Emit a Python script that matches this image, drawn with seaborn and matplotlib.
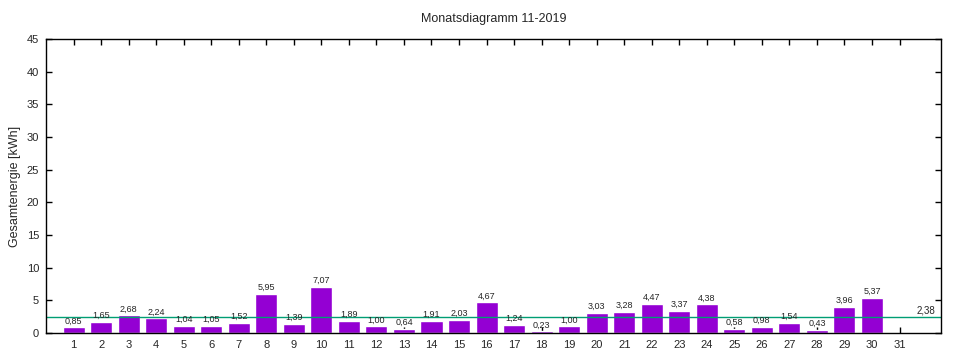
import pandas as pd
import numpy as np
import matplotlib
matplotlib.use('Agg')
import matplotlib.pyplot as plt
import seaborn as sns

# Daily energy values for November 2019 (kWh)
days = list(range(1, 31))
energy = [0.85, 1.65, 2.68, 2.24, 1.04, 1.05, 1.52, 5.95, 1.39, 7.07,
          1.89, 1.00, 0.64, 1.91, 2.03, 4.67, 1.24, 0.23, 1.00, 3.03,
          3.28, 4.47, 3.37, 4.38, 0.58, 0.98, 1.54, 0.43, 3.96, 5.37]
tick_days = list(range(1, 32))
y_ticks = list(range(0, 50, 5))
average = 2.38

df = pd.DataFrame({'Tag': days, 'Energie': energy})

sns.set_style("white")
plt.rcParams['font.family'] = ['Liberation Sans', 'DejaVu Sans']

fig = plt.figure(figsize=(9.6, 3.6), dpi=100)
ax = fig.add_axes([0.048, 0.075, 0.932, 0.817])

sns.barplot(data=df, x='Tag', y='Energie', native_scale=True, color='#9400d3',
            saturation=1, width=0.8, ax=ax)

# Average line
ax.axhline(average, color='#009e73', linewidth=1)
ax.text(32.3, average + 0.3, f"{average:.2f}".replace('.', ','), ha='right',
        va='bottom', fontsize=7)

# Value labels above bars
for d, v in zip(days, energy):
    ax.text(d, v + 0.3, f"{v:.2f}".replace('.', ','), ha='center',
            va='bottom', fontsize=6.5)

ax.set_xlim(0, 32.5)
ax.set_ylim(0, 45)
ax.set_xticks(tick_days)
ax.set_xticklabels([str(t) for t in tick_days], fontsize=8)
ax.set_yticks(y_ticks)
ax.set_yticklabels([str(t) for t in y_ticks], fontsize=8)
ax.tick_params(direction='in', length=4, width=1, color='black',
               top=True, right=True, bottom=True, left=True, pad=5)
for s in ax.spines.values():
    s.set_color('black')
    s.set_linewidth(1)

ax.set_xlabel('')
ax.set_ylabel('Gesamtenergie [kWh]', fontsize=9)
ax.set_title('Monatsdiagramm 11-2019', fontsize=9, pad=12)

plt.savefig('out.png', dpi=100)
plt.close()
